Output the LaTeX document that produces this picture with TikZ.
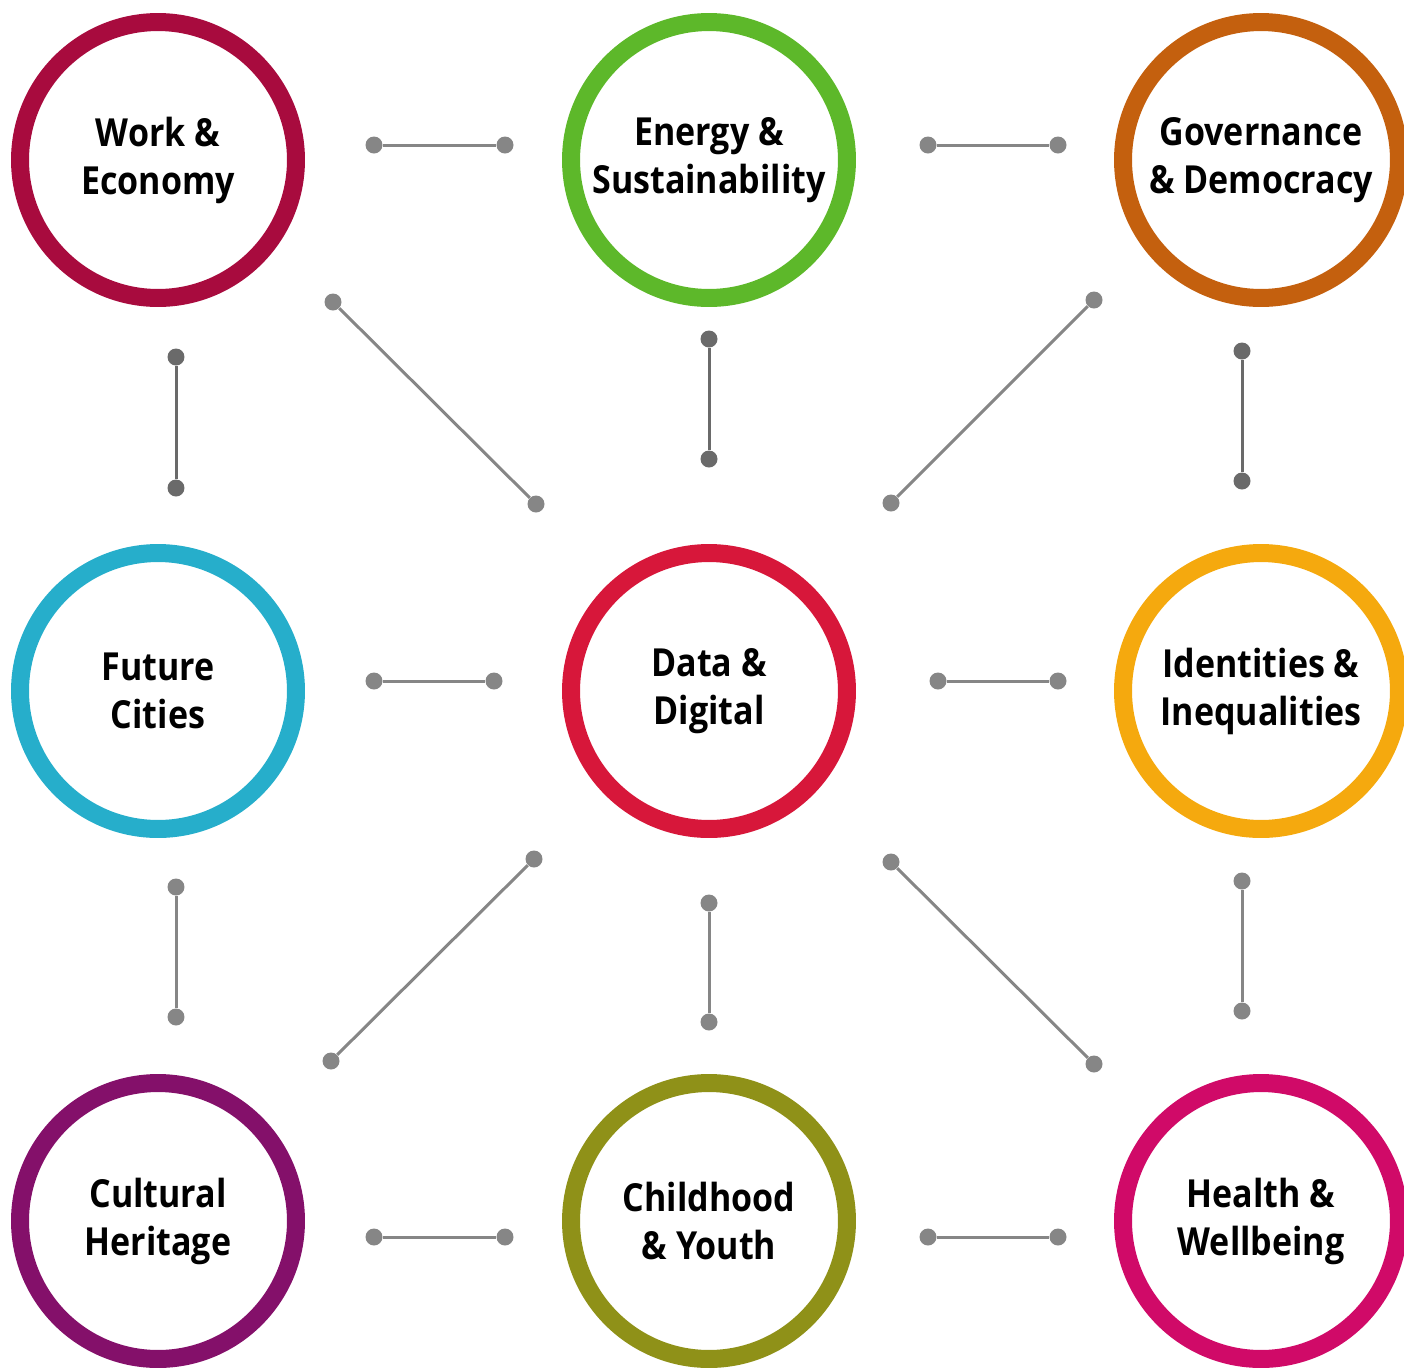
\documentclass[tikz,border=0pt]{standalone}
\usepackage{fontspec}
\setmainfont{Open Sans}
\newfontfamily\topicfont{Open Sans}[FakeStretch=0.88]
\usepackage{tikz}
\usetikzlibrary{positioning, calc}

\definecolor{workred}{HTML}{A80B3E}
\definecolor{energygreen}{HTML}{5DB82A}
\definecolor{govorange}{HTML}{C4600E}
\definecolor{citycyan}{HTML}{26AECB}
\definecolor{datared}{HTML}{D7173A}
\definecolor{identamber}{HTML}{F5A90E}
\definecolor{culturepurple}{HTML}{84106A}
\definecolor{youtholive}{HTML}{8F9118}
\definecolor{healthpink}{HTML}{D00A68}
\definecolor{linkgray}{HTML}{868686}
\definecolor{vlinkgray}{HTML}{6A6A6A}

\begin{document}
\begin{tikzpicture}[x=0.02cm, y=-0.02cm,
    topic/.style={circle, draw=#1, line width=0.36cm, minimum size=5.52cm, inner sep=0pt,
                  align=center, font=\topicfont\bfseries\fontsize{22}{27.3}\selectfont},
    dot/.style={circle, fill=#1, inner sep=0pt, minimum size=0.34cm},
    link/.style={draw=linkgray, line width=0.06cm},
    vlink/.style={draw=vlinkgray, line width=0.06cm}]

    \useasboundingbox (0,0) rectangle (1404,1367);

    % ================= Topic circles =================
    \node[topic=workred]       (work)    at (158,160)   {Work \&\\Economy};
    \node[topic=energygreen]   (energy)  at (709,160)   {Energy \&\\Sustainability};
    \node[topic=govorange]     (gov)     at (1261,160)  {Governance\\\& Democracy};

    \node[topic=citycyan]      (cities)  at (158,691)   {Future\\Cities};
    \node[topic=datared]       (data)    at (709,691)   {Data \&\\Digital};
    \node[topic=identamber]    (ident)   at (1261,691)  {Identities \&\\Inequalities};

    \node[topic=culturepurple] (culture) at (158,1221)  {Cultural\\Heritage};
    \node[topic=youtholive]    (youth)   at (709,1221)  {Childhood\\\& Youth};
    \node[topic=healthpink]    (health)  at (1261,1221) {Health \&\\Wellbeing};

    % ================= Horizontal links =================
    \node[dot=linkgray] (we-a) at (374,145) {};
    \node[dot=linkgray] (we-b) at (505,145) {};
    \draw[link] (we-a) -- (we-b);

    \node[dot=linkgray] (eg-a) at (928,145) {};
    \node[dot=linkgray] (eg-b) at (1058,145) {};
    \draw[link] (eg-a) -- (eg-b);

    \node[dot=linkgray] (cd-a) at (374,681) {};
    \node[dot=linkgray] (cd-b) at (494,681) {};
    \draw[link] (cd-a) -- (cd-b);

    \node[dot=linkgray] (di-a) at (938,681) {};
    \node[dot=linkgray] (di-b) at (1058,681) {};
    \draw[link] (di-a) -- (di-b);

    \node[dot=linkgray] (cy-a) at (374,1237) {};
    \node[dot=linkgray] (cy-b) at (505,1237) {};
    \draw[link] (cy-a) -- (cy-b);

    \node[dot=linkgray] (yh-a) at (928,1237) {};
    \node[dot=linkgray] (yh-b) at (1058,1237) {};
    \draw[link] (yh-a) -- (yh-b);

    % ================= Vertical links =================
    \node[dot=vlinkgray] (wc-a) at (176,357) {};
    \node[dot=vlinkgray] (wc-b) at (176,488) {};
    \draw[vlink] (wc-a) -- (wc-b);

    \node[dot=vlinkgray] (ed-a) at (709,339) {};
    \node[dot=vlinkgray] (ed-b) at (709,459) {};
    \draw[vlink] (ed-a) -- (ed-b);

    \node[dot=vlinkgray] (gi-a) at (1242,351) {};
    \node[dot=vlinkgray] (gi-b) at (1242,481) {};
    \draw[vlink] (gi-a) -- (gi-b);

    \node[dot=linkgray] (cc-a) at (176,887) {};
    \node[dot=linkgray] (cc-b) at (176,1017) {};
    \draw[link] (cc-a) -- (cc-b);

    \node[dot=linkgray] (dy-a) at (709,903) {};
    \node[dot=linkgray] (dy-b) at (709,1022) {};
    \draw[link] (dy-a) -- (dy-b);

    \node[dot=linkgray] (ih-a) at (1242,881) {};
    \node[dot=linkgray] (ih-b) at (1242,1011) {};
    \draw[link] (ih-a) -- (ih-b);

    % ================= Diagonal links =================
    \node[dot=linkgray] (wd-a) at (333,302) {};
    \node[dot=linkgray] (wd-b) at (536,504) {};
    \draw[link] (wd-a) -- (wd-b);

    \node[dot=linkgray] (gd-a) at (1094,300) {};
    \node[dot=linkgray] (gd-b) at (891,503) {};
    \draw[link] (gd-a) -- (gd-b);

    \node[dot=linkgray] (dc-a) at (534,859) {};
    \node[dot=linkgray] (dc-b) at (331,1061) {};
    \draw[link] (dc-a) -- (dc-b);

    \node[dot=linkgray] (dh-a) at (891,862) {};
    \node[dot=linkgray] (dh-b) at (1094,1064) {};
    \draw[link] (dh-a) -- (dh-b);

\end{tikzpicture}
\end{document}
